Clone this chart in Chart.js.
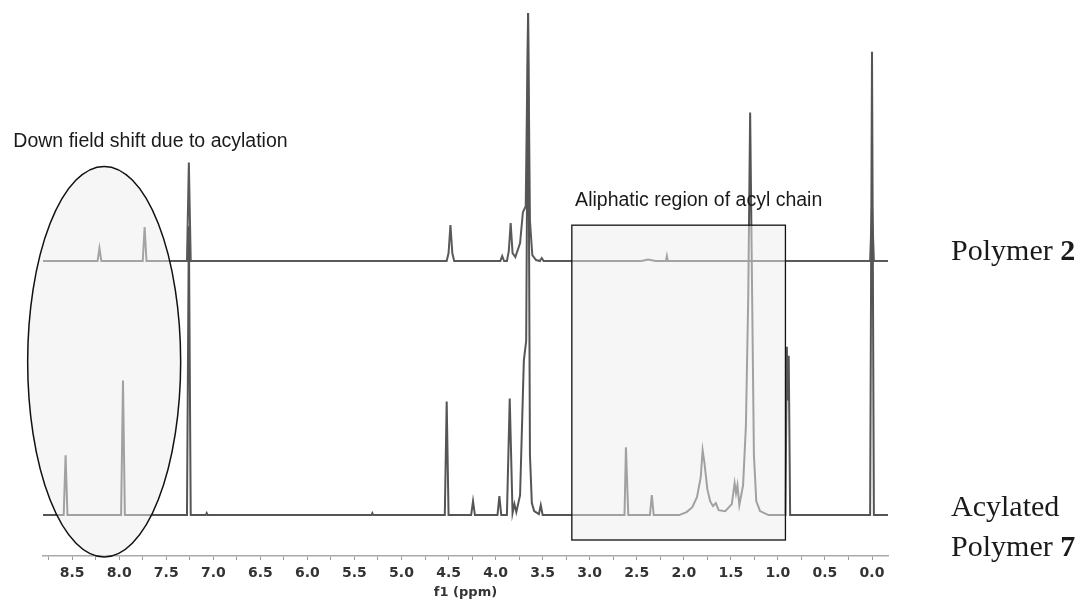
<!DOCTYPE html>
<html>
<head>
<meta charset="utf-8">
<script src="https://cdn.jsdelivr.net/npm/chart.js@4.4.1/dist/chart.umd.min.js"></script>
<style>
  body { margin: 0; background: #fff; }
  #wrap { width: 1089px; height: 599px; }
</style>
</head>
<body>
<div id="wrap"><canvas id="nmr" width="1089" height="599"></canvas></div>
<script>
// acylated polymer 7 (bottom trace), [ppm, intensity]
var lowerPeaks = [
  [8.81, 0], [8.59, 0], [8.57, 60], [8.55, 0],
  [7.98, 0], [7.96, 135], [7.94, 0],
  [7.28, 0], [7.26, 290], [7.24, 0],
  [7.08, 0], [7.07, 2], [7.06, 0],
  [5.32, 0], [5.31, 2], [5.30, 0],
  [4.54, 0], [4.52, 114], [4.50, 0],
  [4.26, 0], [4.24, 14], [4.22, 0],
  [3.98, 0], [3.96, 19], [3.94, 0],
  [3.88, 0], [3.85, 117], [3.82, 2], [3.80, 11], [3.78, 3], [3.74, 20],
  [3.70, 155], [3.675, 175], [3.655, 504], [3.635, 60], [3.615, 12], [3.59, 4],
  [3.54, 1], [3.52, 10], [3.50, 0],
  [2.63, 0], [2.615, 68], [2.605, 40], [2.59, 0],
  [2.36, 0], [2.34, 20], [2.32, 0],
  [2.05, 0], [1.97, 3], [1.91, 8], [1.86, 18], [1.82, 38], [1.80, 65], [1.78, 52],
  [1.75, 26], [1.72, 14], [1.69, 9], [1.66, 12], [1.63, 5], [1.56, 4], [1.49, 11],
  [1.46, 32], [1.445, 22], [1.43, 30], [1.41, 10], [1.37, 30], [1.34, 90],
  [1.315, 220], [1.295, 404], [1.275, 230], [1.255, 60], [1.23, 14], [1.19, 4], [1.10, 0],
  [0.92, 0], [0.905, 169], [0.895, 115], [0.885, 160], [0.87, 0],
  [0.02, 0], [0.0, 465], [-0.02, 0], [-0.17, 0]
];

// polymer 2 (top trace), [ppm, intensity]
var upperPeaks = [
  [8.81, 0], [8.23, 0], [8.21, 13], [8.19, 0],
  [7.75, 0], [7.73, 34], [7.71, 0],
  [7.28, 0], [7.26, 99], [7.24, 0],
  [4.52, 0], [4.50, 8], [4.48, 36], [4.46, 8], [4.44, 0],
  [3.95, 0], [3.93, 5], [3.91, 0],
  [3.88, 0], [3.86, 10], [3.84, 38], [3.82, 8], [3.79, 4], [3.74, 18], [3.71, 49],
  [3.68, 55], [3.655, 249], [3.635, 40], [3.61, 6], [3.57, 1],
  [3.53, 0], [3.51, 3], [3.49, 0],
  [2.45, 0], [2.38, 1.5], [2.30, 0],
  [2.19, 0], [2.18, 5], [2.17, 0],
  [0.02, 0], [0.0, 55], [-0.02, 0], [-0.17, 0]
];

var upperShift = 255;

function toPoints(peaks, shift) {
  return peaks.map(function (p) { return { x: p[0], y: p[1] + shift }; });
}

var annotations = {
  id: 'annotations',
  afterDatasetsDraw: function (chart) {
    var ctx = chart.ctx, xs = chart.scales.x, ys = chart.scales.y;
    var px = function (v) { return xs.getPixelForValue(v); };
    var py = function (v) { return ys.getPixelForValue(v); };
    ctx.save();

    // ellipse round the aromatic peaks
    var cx = px(8.16), cy = py(154);
    var rx = Math.abs(px(8.16 - 0.813) - cx), ry = Math.abs(py(154 + 196) - cy);
    ctx.beginPath();
    ctx.ellipse(cx, cy, rx, ry, 0, 0, Math.PI * 2);
    ctx.fillStyle = 'rgba(238,238,238,0.5)';
    ctx.fill();
    ctx.lineWidth = 1.5;
    ctx.strokeStyle = '#111';
    ctx.stroke();

    // box round the aliphatic region
    var bx1 = px(3.19), bx2 = px(0.92), by1 = py(291), by2 = py(-25);
    ctx.fillStyle = 'rgba(238,238,238,0.5)';
    ctx.fillRect(bx1, by1, bx2 - bx1, by2 - by1);
    ctx.lineWidth = 1.3;
    ctx.strokeRect(bx1, by1, bx2 - bx1, by2 - by1);

    // notes
    ctx.fillStyle = '#1a1a1a';
    ctx.textBaseline = 'middle';
    ctx.textAlign = 'left';
    ctx.font = '19.5px "Liberation Sans", Arial, sans-serif';
    ctx.fillText('Down field shift due to acylation', px(9.125), py(375));
    ctx.fillText('Aliphatic region of acyl chain', px(3.155), py(316));

    // trace names
    var lx = px(-0.84);
    var serif = '"Liberation Serif", "Times New Roman", serif';
    function label(text, bold, yv) {
      ctx.font = '30px ' + serif;
      ctx.fillText(text, lx, py(yv));
      if (bold) {
        var w = ctx.measureText(text).width;
        ctx.font = 'bold 30px ' + serif;
        ctx.fillText(bold, lx + w, py(yv));
      }
    }
    label('Polymer ', '2', upperShift + 9);
    label('Acylated', '', 7);
    label('Polymer ', '7', -33);

    ctx.restore();
  }
};

new Chart(document.getElementById('nmr'), {
  type: 'line',
  data: {
    datasets: [
      {
        label: 'Acylated Polymer 7',
        data: toPoints(lowerPeaks, 0),
        borderColor: '#555',
        borderWidth: 2,
        pointRadius: 0,
        tension: 0,
        fill: false
      },
      {
        label: 'Polymer 2',
        data: toPoints(upperPeaks, upperShift),
        borderColor: '#5a5a5a',
        borderWidth: 2,
        pointRadius: 0,
        tension: 0,
        fill: false
      }
    ]
  },
  options: {
    responsive: false,
    animation: false,
    devicePixelRatio: 1,
    layout: { padding: { left: 43, right: 201, top: 0, bottom: 0 } },
    plugins: { legend: { display: false }, tooltip: { enabled: false } },
    scales: {
      x: {
        type: 'linear',
        reverse: true,
        min: -0.17,
        max: 8.81,
        border: { display: true, color: '#aaa', width: 1.5 },
        grid: { drawOnChartArea: false, drawTicks: true, tickLength: 4, color: '#999' },
        ticks: {
          stepSize: 0.25,
          includeBounds: false,
          autoSkip: false,
          maxRotation: 0,
          padding: 6,
          color: '#333',
          font: { family: '"DejaVu Sans", Verdana, sans-serif', size: 14, weight: 'bold', lineHeight: 1.05 },
          callback: function (v) {
            var r = Math.round(v * 4);
            return r % 2 === 0 ? (r / 4).toFixed(1) : '';
          }
        },
        title: {
          display: true,
          text: 'f1 (ppm)',
          color: '#333',
          padding: { top: 0, bottom: 0 },
          font: { family: '"DejaVu Sans", Verdana, sans-serif', size: 13, weight: 'bold', lineHeight: 0.95 }
        }
      },
      y: {
        display: false,
        min: -41,
        max: 517
      }
    }
  },
  plugins: [annotations]
});
</script>
</body>
</html>
